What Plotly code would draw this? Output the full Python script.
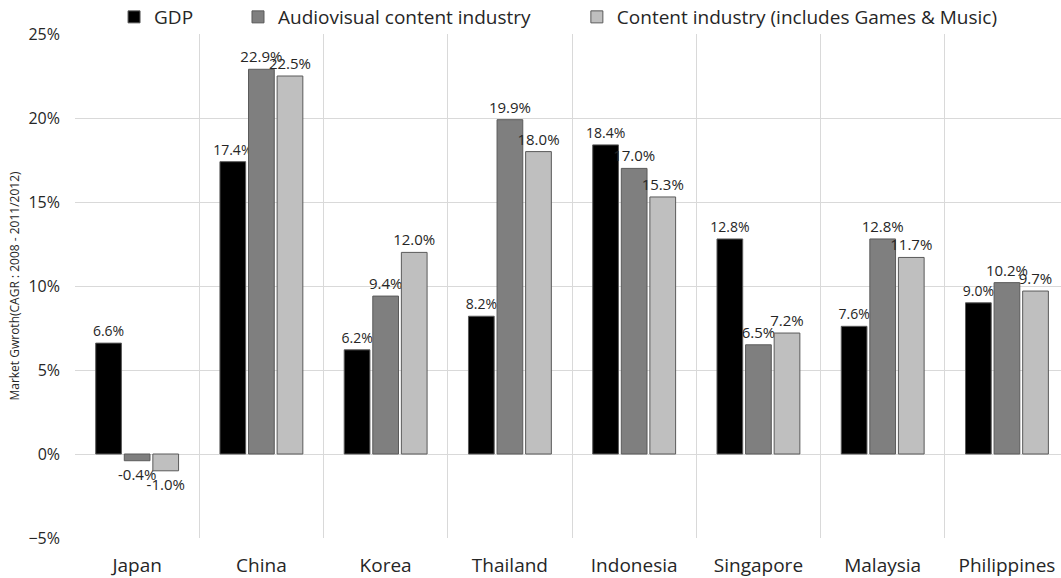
import plotly.graph_objects as go

countries = ["Japan", "China", "Korea", "Thailand", "Indonesia", "Singapore", "Malaysia", "Philippines"]
gdp = [6.6, 17.4, 6.2, 8.2, 18.4, 12.8, 7.6, 9.0]
audiovisual = [-0.4, 22.9, 9.4, 19.9, 17.0, 6.5, 12.8, 10.2]
content = [-1.0, 22.5, 12.0, 18.0, 15.3, 7.2, 11.7, 9.7]

# name, values, fill, label size, legend id, legend x (paper fraction)
series = [
    ("GDP", gdp, "#000000", 14, "legend", 0.0396),
    ("Audiovisual content industry", audiovisual, "#7f7f7f", 15, "legend2", 0.1653),
    ("Content industry (includes Games & Music)", content, "#bfbfbf", 15, "legend3", 0.509),
]

FONT = "Open Sans, Liberation Sans, sans-serif"

fig = go.Figure()
legends = {}
for name, vals, color, fsize, leg, lx in series:
    fig.add_trace(go.Bar(
        name=name,
        x=countries,
        y=vals,
        marker=dict(color=color, line=dict(color="#5a5a5a", width=1)),
        texttemplate="%{y:.1f}%",
        textposition="outside",
        textfont=dict(size=fsize, color="#262626", family=FONT),
        constraintext="none",
        cliponaxis=False,
        legend=leg,
    ))
    legends[leg] = dict(
        orientation="h",
        x=lx, xanchor="left",
        y=1.0337, yanchor="middle",
        font=dict(size=19, color="#262626"),
        bgcolor="rgba(0,0,0,0)",
    )

fig.update_layout(
    width=1061,
    height=578,
    margin=dict(l=75, r=0, t=34, b=40, autoexpand=False),
    paper_bgcolor="white",
    plot_bgcolor="white",
    barmode="group",
    bargap=0.31,
    bargroupgap=0.1,
    font=dict(family=FONT, color="#262626"),
    showlegend=True,
    **legends,
    xaxis=dict(
        range=[-0.5, 7.435],
        tickson="boundaries",
        showgrid=True,
        gridcolor="#d9d9d9",
        gridwidth=1,
        ticks="",
        showline=False,
        zeroline=False,
        tickfont=dict(size=19, color="#262626"),
        ticklabelstandoff=14,
    ),
    yaxis=dict(
        range=[-5, 25],
        dtick=5,
        ticksuffix="%",
        showgrid=True,
        gridcolor="#d9d9d9",
        gridwidth=1,
        zeroline=True,
        zerolinecolor="#d9d9d9",
        zerolinewidth=1,
        showline=False,
        ticks="",
        tickfont=dict(size=16, color="#262626"),
        ticklabelstandoff=14,
        title=dict(
            text="Market Gwroth(CAGR : 2008 - 2011/2012)",
            font=dict(size=12, color="#262626"),
            standoff=6,
        ),
    ),
)

fig.write_html("out.html")
